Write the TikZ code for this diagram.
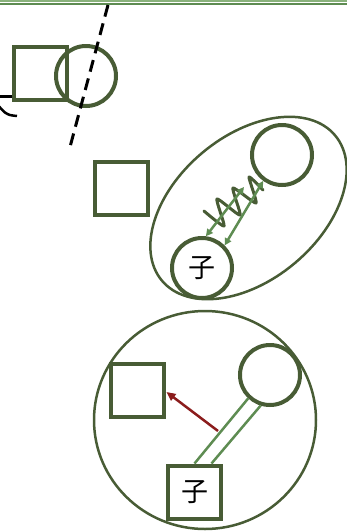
\documentclass[tikz,border=0pt]{standalone}
\usepackage{fontspec}
\newfontfamily\cjk{Noto Sans CJK SC}
\usetikzlibrary{arrows.meta,calc,shapes.geometric}
\definecolor{dg}{HTML}{485C35}
\definecolor{mg}{HTML}{5E8C52}
\definecolor{lg}{HTML}{8AB27C}
\definecolor{dr}{HTML}{8B1C1C}
\begin{document}
\begin{tikzpicture}[x=1pt,y=-1pt,
  sq/.style={draw=dg, line width=4pt, minimum size=53pt, inner sep=0pt},
  ci/.style={draw=dg, line width=4pt, circle, minimum size=60pt, inner sep=0pt},
  thinshape/.style={draw=dg, line width=2.5pt, ellipse, inner sep=0pt},
  lbl/.style={font=\cjk\fontsize{27}{27}\selectfont},
  gline/.style={draw=mg, line width=2.5pt},
  garrow/.style={draw=mg, line width=2.5pt, {Triangle[width=7pt,length=7pt]}-{Triangle[width=7pt,length=7pt]}},
  rarrow/.style={draw=dr, line width=2.5pt, -{Triangle[width=8pt,length=9pt]}},
  scribble/.style={draw=dg, line width=3pt, line join=round, line cap=round},
  dashline/.style={draw=black, line width=3pt, dash pattern=on 12pt off 7pt}]
\useasboundingbox (0,0) rectangle (347,531);
% top rules
\draw[lg, line width=1.6pt] (0,0.8) -- (347,0.8);
\draw[mg, line width=1.6pt] (0,3.9) -- (347,3.9);

% top group
\node[sq] (s1) at (40.5,73.5) {};
\node[ci] (c1) at (86,76) {};
\draw[black, line width=2.5pt] (s1.west |- 0,96.5) -- (-2,96.5);
\draw[black, line width=2.5pt] plot[smooth] coordinates {(-3,104) (0,107.5) (5,112.5) (10,115) (17,116)};
\coordinate (d1) at (108,5);
\coordinate (d2) at (70,147);
\draw[dashline] (d1) -- (d2);

% middle square
\node[sq] (s2) at (121,188) {};

% ellipse group
\node[thinshape, minimum width=226pt, minimum height=144pt, rotate=40] (el) at (248.5,208) {};
\node[ci] (ctr) at (282,155) {};
\node[ci, lbl] (cz) at (202,268) {子};
\draw[scribble] plot[smooth, tension=0.35] coordinates {(204,211) (224,226) (217,199) (240,215) (233,188) (256,203) (249,177) (263,190)};
\coordinate (a1) at (244,187);
\draw[garrow] (cz.83) -- (a1);
\draw[garrow] (cz.45) -- (ctr.234);

% bottom group
\node[thinshape, minimum width=222pt, minimum height=218pt] (bc) at (205,420) {};
\node[sq] (sl) at (137,390.5) {};
\node[ci] (cr) at (270,375) {};
\node[sq, lbl] (sz) at (194.5,492) {子};
\draw[gline] (cr.227) -- (sz.north);
\draw[gline] (cr.253) -- ($(sz.north)+(17,0)$);
\coordinate (r0) at (218,431);
\draw[rarrow] (r0) -- ($(sl.east)+(1,1.5)$);
\end{tikzpicture}
\end{document}
